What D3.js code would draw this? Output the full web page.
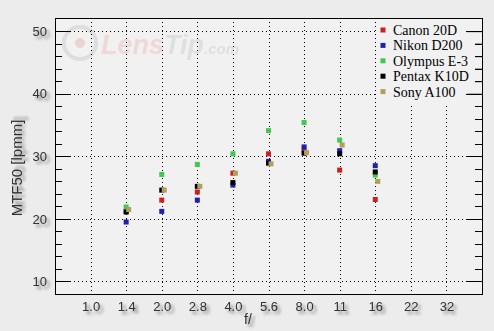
<!DOCTYPE html>
<html>
<head>
<meta charset="utf-8">
<script src="https://cdn.jsdelivr.net/npm/d3@7"></script>
<style>
  body { margin: 0; background: #ececec; }
  #chart svg { display: block; }
</style>
</head>
<body>
<div id="chart"></div>
<script>
var fStops = ["1.0", "1.4", "2.0", "2.8", "4.0", "5.6", "8.0", "11", "16", "22", "32"];
var cameras = ["Canon 20D", "Nikon D200", "Olympus E-3", "Pentax K10D", "Sony A100"];
var canon   = [null, 21.2, 23.0, 24.3, 27.3, 30.4, 31.0, 27.8, 23.1, null, null];
var nikon   = [null, 19.5, 21.2, 23.0, 25.4, 29.2, 31.5, 30.9, 28.5, null, null];
var olympus = [null, 21.9, 27.1, 28.7, 30.4, 34.1, 35.4, 32.6, 27.0, null, null];
var pentax  = [null, 21.1, 24.6, 25.2, 25.8, 28.9, 30.5, 30.4, 27.5, null, null];
var sony    = [null, 21.5, 24.6, 25.2, 27.3, 28.8, 30.6, 31.8, 26.0, null, null];
var yMajor = [10, 20, 30, 40, 50];
var yMinor = [12, 14, 16, 18, 22, 24, 26, 28, 32, 34, 36, 38, 42, 44, 46, 48];

var series = [canon, nikon, olympus, pentax, sony];
var colors = ["#cc2020", "#2020b0", "#40c850", "#000000", "#b0a058"];

function plot() {
	var width = 494, height = 331;
	var left = 55, right = 482, top = 18, bottom = 294;

	var x = d3.scaleLinear().domain([-1, fStops.length]).range([left, right]);
	var y = d3.scaleLinear().domain([8, 52.1]).range([bottom, top]);

	var svg = d3.select("#chart").append("svg")
	.attr("width", width)
	.attr("height", height);

	var defs = svg.append("defs");
	var f = defs.append("filter").attr("id", "shadow")
	.attr("x", "-30%").attr("y", "-30%").attr("width", "180%").attr("height", "180%");
	f.append("feGaussianBlur").attr("in", "SourceAlpha").attr("stdDeviation", 1.8).attr("result", "b");
	f.append("feOffset").attr("in", "b").attr("dx", 3).attr("dy", 3).attr("result", "o");
	f.append("feComponentTransfer").attr("in", "o").attr("result", "s")
	.append("feFuncA").attr("type", "linear").attr("slope", 0.45);
	var m = f.append("feMerge");
	m.append("feMergeNode").attr("in", "s");
	m.append("feMergeNode").attr("in", "SourceGraphic");

	svg.append("rect").attr("width", width).attr("height", height).attr("fill", "#ececec");
	svg.append("rect")
	.attr("x", left).attr("y", top)
	.attr("width", right - left).attr("height", bottom - top)
	.attr("fill", "#f1f1f1");

	// watermark
	var wm = svg.append("g").attr("opacity", 0.9);
	wm.append("circle").attr("cx", 80).attr("cy", 43).attr("r", 16)
	.attr("fill", "none").attr("stroke", "#dcdcdc").attr("stroke-width", 4);
	wm.append("circle").attr("cx", 80).attr("cy", 43).attr("r", 5).attr("fill", "#ead0d0");
	var wt = wm.append("text").attr("x", 101).attr("y", 54)
	.style("font-family", "Liberation Sans, Arial, sans-serif")
	.style("font-style", "italic").style("font-weight", "bold").style("font-size", "27px");
	wt.append("tspan").attr("fill", "#efd6d6").text("Lens");
	wt.append("tspan").attr("fill", "#dedede").text("Tip");
	wt.append("tspan").attr("fill", "#dedede").style("font-size", "15px").text(".com");

	// grid
	var grid = svg.append("g")
	.attr("stroke", "#000").attr("stroke-width", 1).attr("stroke-dasharray", "1,3");
	grid.selectAll(".h").data(yMajor).enter().append("line")
	.attr("x1", left + 15).attr("x2", right - 15)
	.attr("y1", function(d) { return Math.round(y(d)) + 0.5; })
	.attr("y2", function(d) { return Math.round(y(d)) + 0.5; });
	grid.selectAll(".v").data(fStops).enter().append("line")
	.attr("x1", function(d, i) { return Math.round(x(i)) + 0.5; })
	.attr("x2", function(d, i) { return Math.round(x(i)) + 0.5; })
	.attr("y1", top).attr("y2", bottom);

	// axes
	var yAxis = svg.append("g").attr("transform", "translate(" + left + ",0)")
	.call(d3.axisLeft(y).tickValues(yMajor).tickSize(-15).tickPadding(8).tickFormat(d3.format("d")));
	svg.append("g").attr("transform", "translate(" + left + ",0)")
	.call(d3.axisLeft(y).tickValues(yMinor).tickSize(-7).tickFormat(""));
	svg.append("g").attr("transform", "translate(" + right + ",0)")
	.call(d3.axisRight(y).tickValues(yMajor).tickSize(-15).tickFormat(""));
	svg.append("g").attr("transform", "translate(" + right + ",0)")
	.call(d3.axisRight(y).tickValues(yMinor).tickSize(-7).tickFormat(""));
	var xAxis = svg.append("g").attr("transform", "translate(0," + bottom + ")")
	.call(d3.axisBottom(x).tickValues(d3.range(fStops.length)).tickSize(0).tickPadding(8)
		.tickFormat(function(i) { return fStops[i]; }));

	svg.selectAll(".domain").remove();
	svg.selectAll(".tick line").attr("stroke", "#000").attr("shape-rendering", "crispEdges");
	[yAxis, xAxis].forEach(function(a) {
		a.selectAll("text")
		.style("font-family", "Liberation Sans, Arial, sans-serif")
		.style("font-size", "13px")
		.attr("fill", "#303030")
		.attr("filter", "url(#shadow)");
	});

	svg.append("rect")
	.attr("x", left + 0.5).attr("y", top + 0.5)
	.attr("width", right - left).attr("height", bottom - top)
	.attr("fill", "none").attr("stroke", "#000").attr("shape-rendering", "crispEdges");

	// legend
	var lg = svg.append("g");
	lg.append("rect").attr("x", 378).attr("y", top + 1).attr("width", 88).attr("height", 84)
	.attr("fill", "#f1f1f1");
	var items = lg.selectAll(".item").data(cameras).enter().append("g")
	.attr("transform", function(d, i) { return "translate(383," + (30 + i * 15.4) + ")"; });
	items.append("rect").attr("x", -2.5).attr("y", -2.5).attr("width", 5).attr("height", 5)
	.attr("fill", function(d, i) { return colors[i]; });
	items.append("text").attr("x", 10).attr("dy", "0.35em")
	.style("font-family", "Liberation Serif, Times New Roman, serif")
	.style("font-size", "14px")
	.text(function(d) { return d; });
	// keep right ticks above legend
	svg.append("g").attr("transform", "translate(" + right + ",0)")
	.call(d3.axisRight(y).tickValues([48, 46, 44, 42]).tickSize(-7).tickFormat(""))
	.selectAll(".domain").remove();
	svg.append("g").attr("transform", "translate(" + right + ",0)")
	.call(d3.axisRight(y).tickValues([50, 40]).tickSize(-15).tickFormat(""))
	.selectAll(".domain").remove();

	// points
	series.forEach(function(s, k) {
		var off = k === 4 ? 2.5 : 0;
		svg.append("g").selectAll("rect")
		.data(s.map(function(v, i) { return {i: i, v: v}; }).filter(function(d) { return d.v != null; }))
		.enter().append("rect")
		.attr("x", function(d) { return x(d.i) + off - 2.5; })
		.attr("y", function(d) { return y(d.v) - 2.5; })
		.attr("width", 5).attr("height", 5)
		.attr("fill", colors[k]);
	});

	// titles
	svg.append("text")
	.attr("x", 248).attr("y", 324).attr("text-anchor", "middle")
	.style("font-family", "Liberation Sans, Arial, sans-serif").style("font-size", "14px")
	.attr("fill", "#303030").attr("filter", "url(#shadow)")
	.text("f/");
	svg.append("text")
	.attr("transform", "translate(22,168) rotate(-90)")
	.attr("text-anchor", "middle")
	.style("font-family", "Liberation Sans, Arial, sans-serif").style("font-size", "15px")
	.attr("fill", "#303030").attr("filter", "url(#shadow)")
	.text("MTF50 [lpmm]");
}

document.addEventListener("DOMContentLoaded", function() {
	plot();
});
</script>
</body>
</html>
